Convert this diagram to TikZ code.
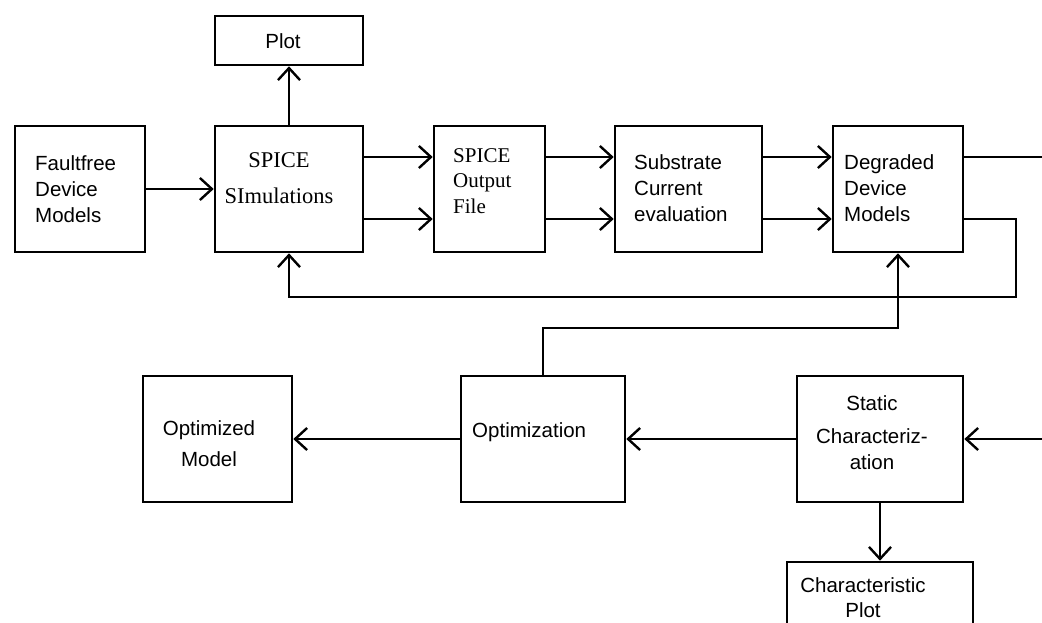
\documentclass[tikz,border=0pt]{standalone}
\usepackage{fontspec}
\setmainfont{Liberation Sans}
\newfontfamily\serifface{Liberation Serif}
\usetikzlibrary{arrows.meta}
\begin{document}
\begin{tikzpicture}[x=1pt,y=-1pt,
  box/.style={draw,line width=2.6pt,inner sep=0pt,minimum width=#1},
  lbl/.style={inner sep=0pt,font=\fontsize{20.5}{26}\selectfont},
  slbl/.style={inner sep=0pt,font=\serifface\fontsize{21}{25.5}\selectfont},
  conn/.style={line width=2.4pt,-{Straight Barb[length=12pt,width=22pt]}},
  plain/.style={line width=2.4pt}]
\clip (0,0) rectangle (1042,622);
\fill[white] (0,0) rectangle (1042,622);
% boxes
\node[box=148pt,minimum height=49pt] (plot) at (289,40.5) {};
\node[box=130pt,minimum height=126pt] (ff) at (80,189) {};
\node[box=148pt,minimum height=126pt] (sim) at (289,189) {};
\node[box=111pt,minimum height=126pt] (out) at (489.5,189) {};
\node[box=147pt,minimum height=126pt] (sub) at (688.5,189) {};
\node[box=130pt,minimum height=126pt] (deg) at (898,189) {};
\node[box=149pt,minimum height=126pt] (optm) at (217.5,439) {};
\node[box=164pt,minimum height=126pt] (opt) at (543,439) {};
\node[box=166pt,minimum height=126pt] (stat) at (880,439) {};
\node[box=186pt,minimum height=88pt] (cplot) at (880,606) {};
% labels
\node[lbl,anchor=base] (tplot) at (283,48) {Plot};
\node[lbl,anchor=west,align=left] (tff) at (35,189) {Faultfree\\Device\\Models};
\node[slbl,anchor=center,align=center,font=\serifface\fontsize{22.5}{26}\selectfont] (tsim) at (279,178) {SPICE\\[10pt]SImulations};
\node[slbl,anchor=west,align=left] (tout) at (453,181) {SPICE\\Output\\File};
\node[lbl,anchor=west,align=left] (tsub) at (634,188) {Substrate\\Current\\evaluation};
\node[lbl,anchor=west,align=left] (tdeg) at (844,188) {Degraded\\Device\\Models};
\node[lbl,anchor=center,align=center,font=\fontsize{20.5}{31}\selectfont] (toptm) at (209,444) {Optimized\\Model};
\node[lbl,anchor=base west] (topt) at (472,437) {Optimization};
\node[lbl,anchor=center,align=center] (tstat) at (872,433) {Static\\[7pt]Characteriz-\\ation};
\node[lbl,anchor=center,align=center,font=\fontsize{20.5}{25}\selectfont] (tcplot) at (863,598) {Characteristic\\Plot};
% helper coordinates
\coordinate (r1) at (0,157);
\coordinate (r2) at (0,219);
\coordinate (e1) at (1042,157);
\coordinate (c1) at (1016,297);
\coordinate (c2) at (700,328);
\coordinate (e2) at (1042,439);
% connectors
\draw[conn] (ff.east) -- (sim.west);
\draw[conn] (sim.north) -- (plot.south);
\draw[conn] (sim.east |- r1) -- (out.west |- r1);
\draw[conn] (sim.east |- r2) -- (out.west |- r2);
\draw[conn] (out.east |- r1) -- (sub.west |- r1);
\draw[conn] (out.east |- r2) -- (sub.west |- r2);
\draw[conn] (sub.east |- r1) -- (deg.west |- r1);
\draw[conn] (sub.east |- r2) -- (deg.west |- r2);
\draw[plain] (deg.east |- r1) -- (e1);
\draw[conn] (deg.east |- r2) -| (c1) -| (sim.south);
\draw[conn] (opt.north) |- (c2) -| (deg.south);
\draw[conn] (stat.west) -- (opt.east);
\draw[conn] (opt.west) -- (optm.east);
\draw[conn] (e2 |- stat.east) -- (stat.east);
\draw[conn] (stat.south) -- (cplot.north);
\end{tikzpicture}
\end{document}
